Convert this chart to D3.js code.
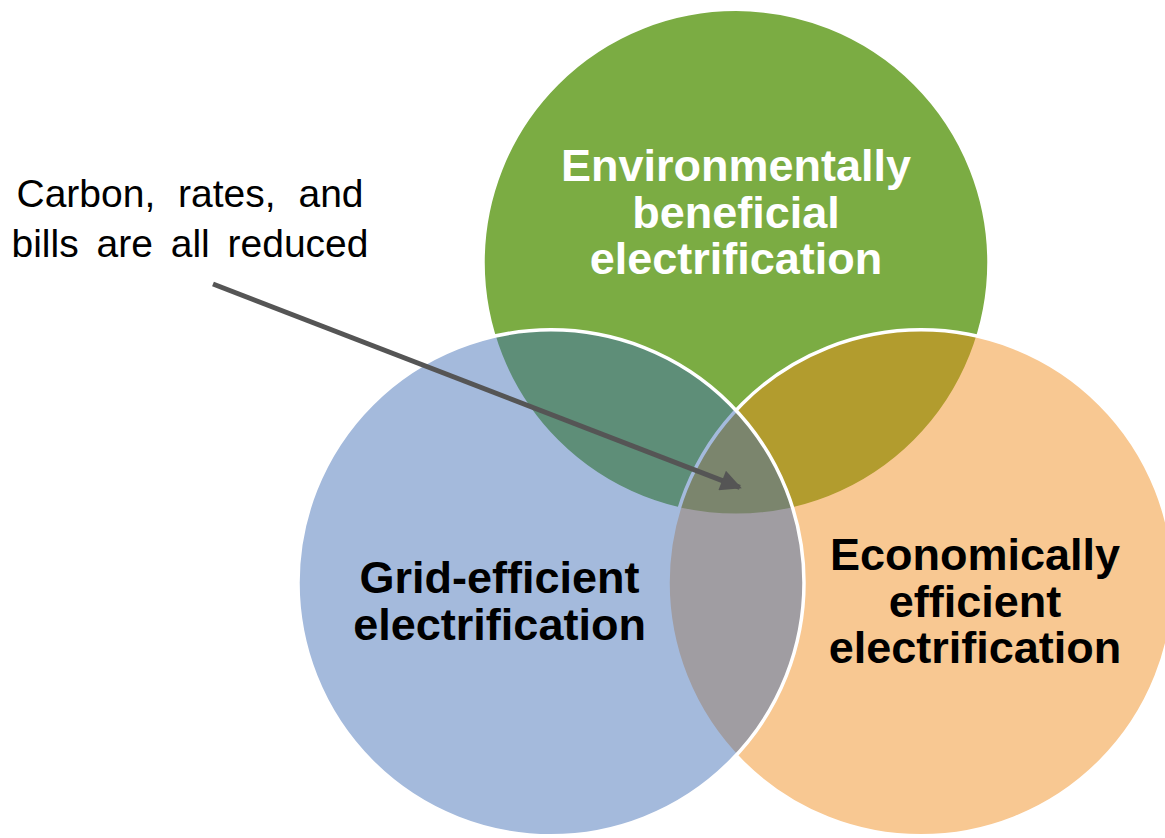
<!DOCTYPE html>
<html>
<head>
<meta charset="utf-8">
<script src="https://cdn.jsdelivr.net/npm/d3@7/dist/d3.min.js"></script>
<style>
  body { margin: 0; background: #fff; }
  svg { display: block; }
  text { font-family: "Liberation Sans", Arial, sans-serif; }
</style>
</head>
<body>
<script>
(function(){

//venn sets, drawn in this order (blue on top)
var setNames = ["environmental", "economic", "grid"];
var setLabels = [
    ["Environmentally", "beneficial", "electrification"],
    ["Economically", "efficient", "electrification"],
    ["Grid-efficient", "electrification"]
];
var setColors = ["#7bac43", "#f18b17", "#3e6cb5"];
var setOpacity = [1, 0.47, 0.47];
var labelColors = ["#ffffff", "#000000", "#000000"];
//angle of each circle around the shared centre (degrees, 0 = up)
var setAngles = [0, 120, 240];
//all circles have radius 1, centre distance between circles in radius units
var overlapDistance = 1.4625;

//annotation
var noteLines = ["Carbon, rates, and", "bills are all reduced"];

var width = 1165,
    height = 838;

var svg = d3.select("body")
    .append("svg")
    .attr("width", width)
    .attr("height", height);

//layout units -> pixels
var unit = 253;
var x = d3.scaleLinear().domain([-1, 1]).range([736 - unit, 736 + unit]);
var y = d3.scaleLinear().domain([-1, 1]).range([476 - unit, 476 + unit]);

//distance of each centre from the triangle centroid
var centroidDist = overlapDistance / Math.sqrt(3);

var sets = setNames.map(function(name, i){
    var a = setAngles[i] * Math.PI / 180;
    return {
        name: name,
        cx: Math.sin(a) * centroidDist,
        cy: -Math.cos(a) * centroidDist,
        color: setColors[i],
        opacity: setOpacity[i],
        label: setLabels[i],
        labelColor: labelColors[i],
        angle: a
    };
});

//circles
svg.selectAll(".circle")
    .data(sets)
    .enter()
    .append("circle")
    .attr("class", function(d){ return "circle " + d.name; })
    .attr("cx", function(d){ return x(d.cx); })
    .attr("cy", function(d){ return y(d.cy); })
    .attr("r", x(1) - x(0))
    .style("fill", function(d){ return d.color; })
    .style("fill-opacity", function(d){ return d.opacity; })
    .style("stroke", "#fff")
    .style("stroke-width", 3.5);

//labels pushed outward from the centre
var labelPush = [0.2, 0.2, 0.2];
var labelNudge = [[0, 0], [0.04, -0.03], [-0.03, -0.03]];
var lineHeight = 46.5;

var labels = svg.selectAll(".label")
    .data(sets)
    .enter()
    .append("text")
    .attr("class", "label")
    .attr("text-anchor", "middle")
    .style("font-size", "45px")
    .style("font-weight", "bold")
    .style("fill", function(d){ return d.labelColor; })
    .attr("transform", function(d, i){
        var lx = d.cx + Math.sin(d.angle) * labelPush[i] + labelNudge[i][0];
        var ly = d.cy - Math.cos(d.angle) * labelPush[i] + labelNudge[i][1];
        return "translate(" + x(lx) + "," + y(ly) + ")";
    });

labels.selectAll("tspan")
    .data(function(d){ return d.label; })
    .enter()
    .append("tspan")
    .attr("x", 0)
    .attr("y", function(d, i, nodes){
        return (i - (nodes.length - 1) / 2) * lineHeight;
    })
    .attr("dy", "0.36em")
    .text(function(d){ return d; });

//annotation text
var note = svg.append("text")
    .attr("text-anchor", "middle")
    .style("font-size", "39px")
    .style("fill", "#000");

note.selectAll("tspan")
    .data(noteLines)
    .enter()
    .append("tspan")
    .attr("x", 190)
    .attr("y", function(d, i){ return 207 + i * 50; })
    .attr("word-spacing", function(d, i){ return i === 0 ? 12 : 7; })
    .text(function(d){ return d; });

//arrow to the triple overlap
svg.append("defs")
    .append("marker")
    .attr("id", "arrowhead")
    .attr("viewBox", "0 0 10 10")
    .attr("refX", 9)
    .attr("refY", 5)
    .attr("markerWidth", 5)
    .attr("markerHeight", 4.2)
    .attr("markerUnits", "strokeWidth")
    .attr("orient", "auto")
    .append("path")
    .attr("d", "M0,0L10,5L0,10z")
    .style("fill", "#555");

svg.append("line")
    .attr("x1", 213)
    .attr("y1", 284)
    .attr("x2", x(0.015))
    .attr("y2", y(0.045))
    .style("stroke", "#555")
    .style("stroke-width", 5)
    .attr("marker-end", "url(#arrowhead)");

})();
</script>
</body>
</html>
